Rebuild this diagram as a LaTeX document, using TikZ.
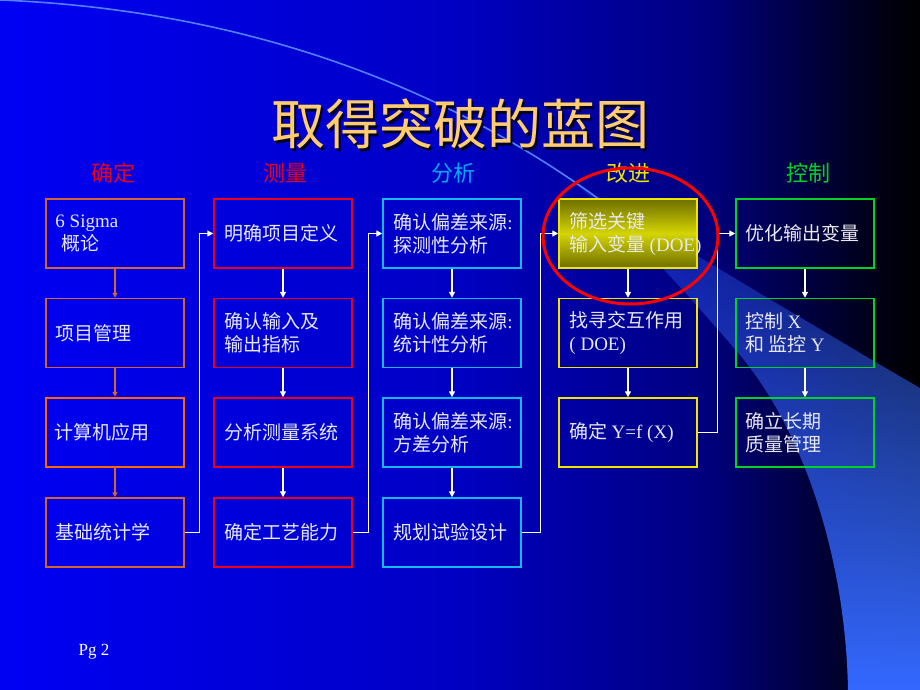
\documentclass[tikz,border=0pt]{standalone}
\usepackage{fontspec}
\setmainfont{Liberation Serif}
\newfontfamily\cjk{Noto Sans CJK SC}
\usetikzlibrary{arrows.meta,shapes.geometric,fadings}
\definecolor{bgA}{RGB}{0,0,244}
\definecolor{bgB}{RGB}{0,0,196}
\definecolor{bgC}{RGB}{0,0,128}
\definecolor{bgD}{RGB}{0,0,20}
\definecolor{swoosh}{RGB}{52,104,255}
\definecolor{swline}{RGB}{80,130,255}
\definecolor{gold}{RGB}{255,204,110}
\definecolor{boxtext}{RGB}{232,232,240}
\definecolor{cOrange}{RGB}{214,100,48}
\definecolor{cOrangeB}{RGB}{255,102,0}
\definecolor{cRed}{RGB}{235,0,20}
\definecolor{cCyan}{RGB}{20,185,240}
\definecolor{cYellow}{RGB}{240,230,0}
\definecolor{cGreen}{RGB}{0,210,40}
\definecolor{hCyan}{RGB}{0,170,255}
\definecolor{yTop}{RGB}{110,110,0}
\definecolor{yMid}{RGB}{212,212,0}
\tikzfading[name=swfade, top color=transparent!80, middle color=transparent!5, bottom color=transparent!0]
\tikzset{
  box/.style={rectangle, minimum width=138pt, minimum height=69pt, inner sep=0pt, line width=1.5pt},
  txt/.style={anchor=west, align=left, text=boxtext, inner sep=0pt,
              font=\fontsize{19}{23}\selectfont\cjk},
  hdr/.style={inner sep=0pt, font=\fontsize{22}{22}\selectfont\cjk},
  conn/.style={draw=white, line width=1.3pt, -{Triangle[length=6pt,width=6pt]}},
  oconn/.style={draw=cOrange, line width=1.3pt, -{Triangle[length=5pt,width=5pt]}}
}
\begin{document}
\begin{tikzpicture}[x=1pt,y=-1pt]
\useasboundingbox (0,0) rectangle (920,690);
% background
\shade[left color=bgA, right color=bgB] (0,0) rectangle (450.5,690);
\shade[left color=bgB, right color=bgC] (450,0) rectangle (700.5,690);
\shade[left color=bgC, right color=bgD] (700,0) rectangle (880.5,690);
\shade[left color=bgD, right color=black] (880,0) rectangle (920,690);
% swoosh
\draw[swline, line width=1.6pt] (0,0) .. controls (250,10) and (450,90) .. (600,200);
\fill[swoosh, path fading=swfade] (570,180) .. controls (680,245) and (820,330) .. (920,388)
   -- (920,690) -- (848,690) .. controls (846,570) and (810,440) .. (740,355)
   .. controls (680,285) and (620,220) .. (570,180) -- cycle;
% title
\node[font=\fontsize{54}{54}\selectfont\cjk, text=black!85!blue] (titleshadow) at (462.5,127) {取得突破的蓝图};
\node[font=\fontsize{54}{54}\selectfont\cjk, text=gold] (title) at (460,124) {取得突破的蓝图};
% headers
\node[hdr, text=cRed] (h1) at (113,173) {确定};
\node[hdr, text=cRed] (h2) at (285,173) {测量};
\node[hdr, text=hCyan] (h3) at (453,173) {分析};
\node[hdr, text=cYellow] (h4) at (628,173) {改进};
\node[hdr, text=cGreen] (h5) at (808,173) {控制};
% column 1
\node[box, draw=cOrange] (a1) at (115,233.5) {};
\node[box, draw=cOrange] (a2) at (115,333) {};
\node[box, draw=cOrangeB, line width=2.5pt] (a3) at (115,432.5) {};
\node[box, draw=cOrange] (a4) at (115,532.5) {};
\node[txt] (a1t) at ([xshift=10pt]a1.west) {{\rmfamily 6 Sigma}\\\hspace{6pt}概论};
\node[txt] (a2t) at ([xshift=10pt]a2.west) {项目管理};
\node[txt] (a3t) at ([xshift=10pt]a3.west) {计算机应用};
\node[txt] (a4t) at ([xshift=10pt]a4.west) {基础统计学};
% column 2
\node[box, draw=cRed] (b1) at (283,233.5) {};
\node[box, draw=cRed] (b2) at (283,333) {};
\node[box, draw=cRed] (b3) at (283,432.5) {};
\node[box, draw=cRed] (b4) at (283,532.5) {};
\node[txt] (b1t) at ([xshift=11pt]b1.west) {明确项目定义};
\node[txt] (b2t) at ([xshift=11pt]b2.west) {确认输入及\\输出指标};
\node[txt] (b3t) at ([xshift=11pt]b3.west) {分析测量系统};
\node[txt] (b4t) at ([xshift=11pt]b4.west) {确定工艺能力};
% column 3
\node[box, draw=cCyan] (c1) at (452,233.5) {};
\node[box, draw=cCyan] (c2) at (452,333) {};
\node[box, draw=cCyan] (c3) at (452,432.5) {};
\node[box, draw=cCyan] (c4) at (452,532.5) {};
\node[txt] (c1t) at ([xshift=11pt]c1.west) {确认偏差来源{\rmfamily :}\\探测性分析};
\node[txt] (c2t) at ([xshift=11pt]c2.west) {确认偏差来源{\rmfamily :}\\统计性分析};
\node[txt] (c3t) at ([xshift=11pt]c3.west) {确认偏差来源{\rmfamily :}\\方差分析};
\node[txt] (c4t) at ([xshift=11pt]c4.west) {规划试验设计};
% column 4
\node[box, draw=cYellow, top color=yTop, bottom color=yTop, middle color=yMid] (d1) at (628,233.5) {};
\node[box, draw=cYellow] (d2) at (628,333) {};
\node[box, draw=cYellow] (d3) at (628,432.5) {};
\node[txt] (d1t) at ([xshift=11pt]d1.west) {筛选关键\\输入变量 {\rmfamily (DOE)}};
\node[txt] (d2t) at ([xshift=11pt]d2.west) {找寻交互作用\\{\rmfamily ( DOE)}};
\node[txt] (d3t) at ([xshift=11pt]d3.west) {确定 {\rmfamily Y=f (X)}};
% column 5
\node[box, draw=cGreen] (e1) at (805,233.5) {};
\node[box, draw=cGreen] (e2) at (805,333) {};
\node[box, draw=cGreen] (e3) at (805,432.5) {};
\node[txt] (e1t) at ([xshift=10pt]e1.west) {优化输出变量};
\node[txt] (e2t) at ([xshift=10pt]e2.west) {控制 {\rmfamily X}\\和 监控 {\rmfamily Y}};
\node[txt] (e3t) at ([xshift=10pt]e3.west) {确立长期\\质量管理};
% connectors
\draw[oconn] (a1) -- (a2);
\draw[oconn] (a2) -- (a3);
\draw[oconn] (a3) -- (a4);
\draw[conn] (b1) -- (b2);
\draw[conn] (b2) -- (b3);
\draw[conn] (b3) -- (b4);
\draw[conn] (c1) -- (c2);
\draw[conn] (c2) -- (c3);
\draw[conn] (c3) -- (c4);
\draw[conn] (d1) -- (d2);
\draw[conn] (d2) -- (d3);
\draw[conn] (e1) -- (e2);
\draw[conn] (e2) -- (e3);
\draw[conn] (a4.east) -- ++(15,0) |- (b1.west);
\draw[conn] (b4.east) -- ++(16,0) |- (c1.west);
\draw[conn] (c4.east) -- ++(19,0) |- (d1.west);
\draw[conn] (d3.east) -- ++(20,0) |- (e1.west);
% red ellipse
\node[ellipse, draw=red, line width=3pt, minimum width=175pt, minimum height=136pt, inner sep=0pt] (ring) at (630.5,236) {};
% page number
\node[text=white, font=\fontsize{17}{17}\selectfont, inner sep=0pt] (pg) at (94,652) {Pg 2};
\end{tikzpicture}
\end{document}
